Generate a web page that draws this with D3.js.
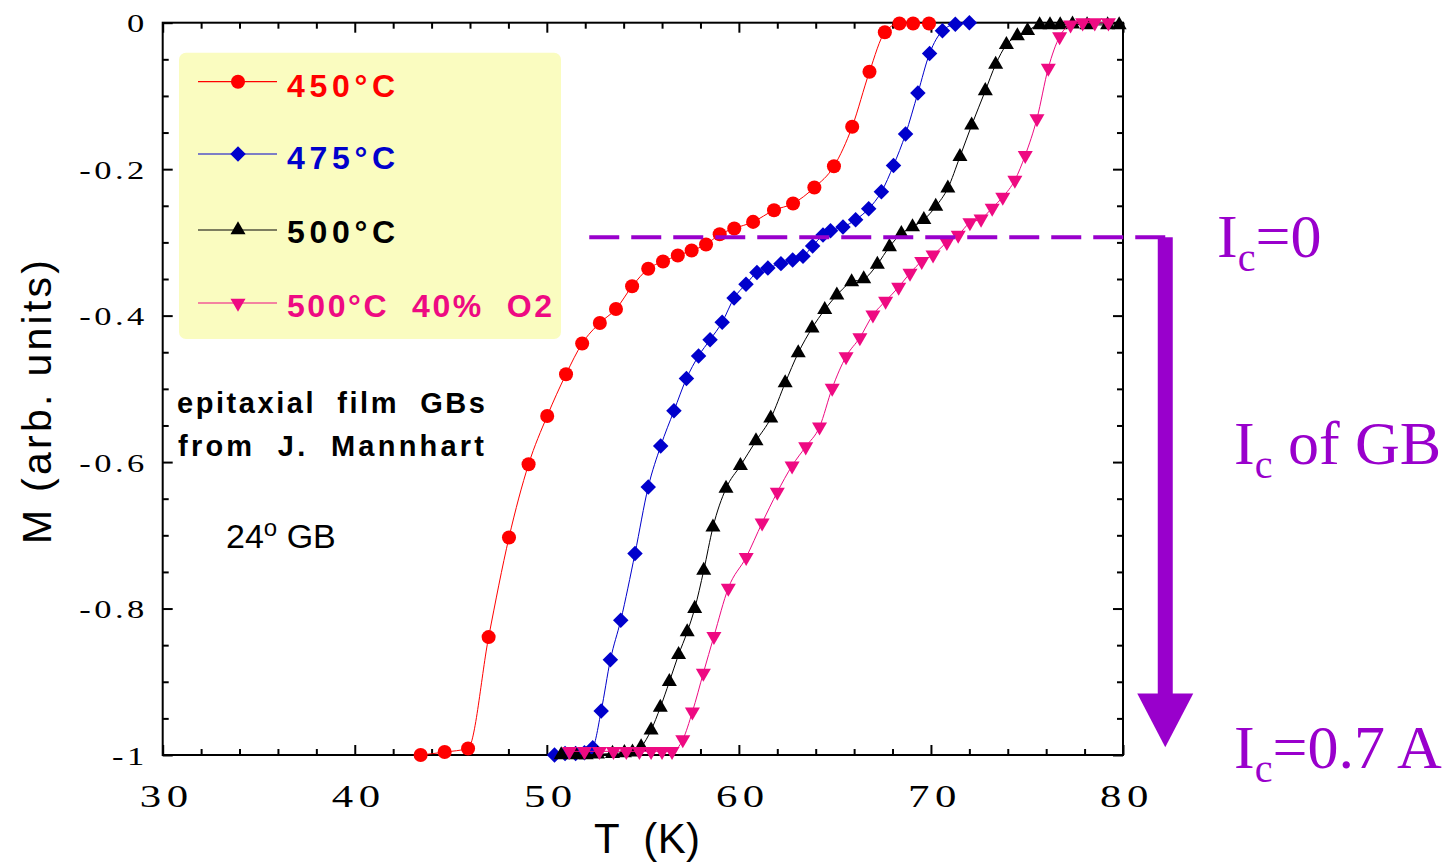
<!DOCTYPE html>
<html><head><meta charset="utf-8">
<script src="https://cdn.jsdelivr.net/npm/d3@7"></script>
<style>body{margin:0;background:#fff}svg{display:block}</style>
</head><body>
<svg id="c" width="1455" height="863"></svg>
<script>
// ---------- data ----------
const T450 = [43.43,44.68,45.9,46.97,48.03,49.05,50.02,51.0,51.84,52.76,53.6,54.44,55.28,56.05,56.82,57.54,58.29,59.0,59.76,60.74,61.83,62.82,63.93,64.95,65.9,66.8,67.6,68.36,69.07,69.9];
const M450 = [-1.0,-0.996,-0.991,-0.839,-0.703,-0.603,-0.537,-0.48,-0.438,-0.41,-0.391,-0.36,-0.336,-0.326,-0.318,-0.311,-0.303,-0.289,-0.281,-0.272,-0.256,-0.247,-0.225,-0.196,-0.142,-0.067,-0.013,-0.001,-0.001,-0.001];

const T475 = [50.4,50.95,51.5,51.96,52.39,52.83,53.31,53.85,54.59,55.28,55.93,56.62,57.27,57.9,58.5,59.13,59.75,60.37,60.94,61.51,62.19,62.8,63.34,63.84,64.38,64.77,65.42,66.08,66.76,67.42,68.05,68.68,69.32,69.93,70.6,71.27,72.0];
const M475 = [-1.0,-0.998,-0.998,-0.997,-0.99,-0.94,-0.87,-0.816,-0.725,-0.634,-0.578,-0.53,-0.486,-0.455,-0.433,-0.409,-0.376,-0.357,-0.341,-0.335,-0.329,-0.324,-0.319,-0.305,-0.29,-0.284,-0.279,-0.269,-0.254,-0.231,-0.195,-0.152,-0.096,-0.042,-0.011,-0.002,0.0];

const T500 = [50.75,51.5,52.05,52.64,53.42,54.04,54.46,54.91,55.43,55.91,56.38,56.86,57.31,57.7,58.17,58.65,59.33,60.08,60.89,61.66,62.41,63.09,63.81,64.47,65.1,65.87,66.5,67.21,67.84,68.46,69.04,69.63,70.25,70.88,71.51,72.12,72.83,73.37,73.93,74.5,75.03,75.66,76.2,76.73,77.37,78.13,79.2,79.8];
const M500 = [-1.0,-1.0,-1.0,-0.999,-0.998,-0.997,-0.996,-0.989,-0.966,-0.935,-0.9,-0.863,-0.832,-0.8,-0.748,-0.689,-0.636,-0.605,-0.571,-0.54,-0.492,-0.451,-0.417,-0.392,-0.372,-0.354,-0.35,-0.33,-0.306,-0.288,-0.279,-0.269,-0.251,-0.226,-0.183,-0.14,-0.093,-0.057,-0.03,-0.018,-0.011,-0.003,-0.003,-0.003,-0.002,-0.003,-0.003,-0.003];

const T500O2 = [51.18,51.96,52.74,53.47,54.14,54.82,55.43,56.0,56.52,57.08,57.58,58.15,58.7,59.45,60.38,61.21,62.0,62.77,63.48,64.2,64.86,65.58,66.3,66.98,67.64,68.32,68.91,69.52,70.11,70.83,71.42,72.03,72.61,73.19,73.74,74.37,74.91,75.52,76.11,76.7,77.27,77.9,78.53,79.24];
const M500O2 = [-0.995,-0.995,-0.995,-0.995,-0.995,-0.995,-0.995,-0.995,-0.995,-0.979,-0.941,-0.888,-0.838,-0.772,-0.73,-0.683,-0.641,-0.605,-0.579,-0.552,-0.499,-0.456,-0.43,-0.399,-0.38,-0.361,-0.342,-0.326,-0.317,-0.3,-0.29,-0.273,-0.268,-0.253,-0.238,-0.215,-0.181,-0.131,-0.062,-0.019,-0.003,0.0,0.0,0.0];

const seriesNames = ["450°C","475°C","500°C","500°C  40%  O2"];
const seriesColors = ["#ff0000","#0000cc","#000000","#ee0a82"];
const xTicks = [30,40,50,60,70,80];
const yTicks = [0,-0.2,-0.4,-0.6,-0.8,-1];
const xTickLabels = ["30","40","50","60","70","80"];
const yTickLabels = ["0","-0.2","-0.4","-0.6","-0.8","-1"];
const icLevel = -0.293;      // Ic=0 reference level (dashed line)
const dashStartT = 52.2;
const arrowT = 82.2;

// ---------- setup ----------
const svg = d3.select("#c");
const x = d3.scaleLinear().domain([30,80]).range([162.7,1123]);
const y = d3.scaleLinear().domain([-1,0]).range([755,22.7]);
const SANS = "'Liberation Sans', Arial, sans-serif";
const SERIF = "'Liberation Serif', 'Times New Roman', serif";
const STRETCH = 1.38;

// legend box
svg.append("rect").attr("x",179).attr("y",52.7).attr("width",382).attr("height",286.3)
  .attr("rx",7).attr("fill","#fafcc0");

// minor ticks
const xMinor = d3.range(32,80,2).filter(v=>v%10!==0);
const yMinor = d3.range(-0.95,0,0.05).map(v=>+v.toFixed(2)).filter(v=>Math.abs(v*5-Math.round(v*5))>1e-6);
const H = 755, Y0 = 22.7, X0 = 162.7, X1 = 1123;

function styleAxis(g){ g.select(".domain").remove(); g.selectAll("line").attr("stroke","#000").attr("stroke-width",2); }

svg.append("g").attr("transform",`translate(0,${H})`).call(d3.axisBottom(x).tickValues(xMinor).tickSize(-6).tickFormat("")).call(styleAxis);
svg.append("g").attr("transform",`translate(0,${Y0})`).call(d3.axisTop(x).tickValues(xMinor).tickSize(-6).tickFormat("")).call(styleAxis);
svg.append("g").attr("transform",`translate(0,${Y0})`).call(d3.axisTop(x).tickValues(xTicks).tickSize(-10).tickFormat("")).call(styleAxis);
svg.append("g").attr("transform",`translate(${X0},0)`).call(d3.axisLeft(y).tickValues(yMinor).tickSize(-6).tickFormat("")).call(styleAxis);
svg.append("g").attr("transform",`translate(${X1},0)`).call(d3.axisRight(y).tickValues(yMinor).tickSize(-6).tickFormat("")).call(styleAxis);
svg.append("g").attr("transform",`translate(${X1},0)`).call(d3.axisRight(y).tickValues(yTicks).tickSize(-10).tickFormat("")).call(styleAxis);

// major bottom with labels (wide serif look: horizontally stretched Times, letter-spaced)
const gx = svg.append("g").attr("transform",`translate(0,${H})`)
  .call(d3.axisBottom(x).tickValues(xTicks).tickSize(-10).tickFormat((d,i)=>xTickLabels[i])).call(styleAxis);
gx.selectAll("text").attr("y",52).attr("dy",0).attr("x",2.5).attr("fill","#000")
  .attr("transform",`scale(${STRETCH},1)`)
  .style("font-family",SERIF).style("font-size","31px").style("letter-spacing","4px");
// major left with labels
const gy = svg.append("g").attr("transform",`translate(${X0},0)`)
  .call(d3.axisLeft(y).tickValues(yTicks).tickSize(-10).tickFormat((d,i)=>yTickLabels[i])).call(styleAxis);
gy.selectAll("text").attr("x",-15/STRETCH).attr("dy","0.36em").attr("fill","#000")
  .attr("transform",`scale(${STRETCH},1)`)
  .style("font-family",SERIF).style("font-size","25px").style("letter-spacing","2.5px");

// frame
svg.append("rect").attr("x",X0).attr("y",Y0).attr("width",X1-X0).attr("height",H-Y0)
  .attr("fill","none").attr("stroke","#000").attr("stroke-width",2);

// axis titles
svg.append("text").attr("x",647).attr("y",853).attr("text-anchor","middle")
  .style("font-family",SANS).style("font-size","42px").style("white-space","pre")
  .attr("textLength",106).attr("lengthAdjust","spacing").text("T  (K)");
svg.append("text").attr("transform","translate(51,402) rotate(-90)").attr("text-anchor","middle")
  .style("font-family",SANS).style("font-size","41px")
  .attr("textLength",284).attr("lengthAdjust","spacing").text("M (arb. units)");

// ---------- series ----------
const diamond = { draw(ctx,size){ const r=Math.sqrt(size/2); ctx.moveTo(0,-r); ctx.lineTo(r,0); ctx.lineTo(0,r); ctx.lineTo(-r,0); ctx.closePath(); } };
const triDown = { draw(ctx,size){ const s=Math.sqrt(size*4/Math.sqrt(3)); const h=s*Math.sqrt(3)/2; ctx.moveTo(-s/2,-h/3); ctx.lineTo(s/2,-h/3); ctx.lineTo(0,2*h/3); ctx.closePath(); } };
const symTypes = [d3.symbolCircle, diamond, d3.symbolTriangle, triDown];
const symSizes = [155, 120, 98, 98];

const seriesT = [T450,T475,T500,T500O2];
const seriesM = [M450,M475,M500,M500O2];
const line = d3.line().x(d=>x(d[0])).y(d=>y(d[1])).curve(d3.curveMonotoneX);

seriesT.forEach((Ts,i)=>{
  const pts = Ts.map((t,j)=>[t, seriesM[i][j]]);
  const g = svg.append("g");
  g.append("path").attr("d",line(pts)).attr("fill","none").attr("stroke",seriesColors[i]).attr("stroke-width",1);
  g.selectAll("path.m").data(pts).join("path").attr("class","m")
    .attr("transform",d=>`translate(${x(d[0])},${y(d[1])})`)
    .attr("d",d3.symbol().type(symTypes[i]).size(symSizes[i]))
    .attr("fill",seriesColors[i]);
});

// ---------- legend ----------
const legendRows = [81.7,154,230,303];
const legendBase = [97.3,169.3,242.7,317.3];
const legendW = [108,108,108,265];
seriesNames.forEach((n,i)=>{
  svg.append("line").attr("x1",198).attr("x2",277).attr("y1",legendRows[i]).attr("y2",legendRows[i])
    .attr("stroke",seriesColors[i]).attr("stroke-width",1.2);
  svg.append("path").attr("transform",`translate(238,${legendRows[i]})`)
    .attr("d",d3.symbol().type(symTypes[i]).size(symSizes[i])).attr("fill",seriesColors[i]);
  svg.append("text").attr("x",287).attr("y",legendBase[i]).attr("fill",seriesColors[i])
    .style("font-family",SANS).style("font-weight","bold").style("font-size","32px").style("white-space","pre")
    .attr("textLength",legendW[i]).attr("lengthAdjust","spacing").text(n);
});

// ---------- annotations ----------
svg.append("text").attr("x",177).attr("y",413).style("font-family",SANS).style("font-weight","bold")
  .style("font-size","29px").style("white-space","pre").attr("textLength",308).attr("lengthAdjust","spacing")
  .text("epitaxial  film  GBs");
svg.append("text").attr("x",178).attr("y",456).style("font-family",SANS).style("font-weight","bold")
  .style("font-size","29px").style("white-space","pre").attr("textLength",306).attr("lengthAdjust","spacing")
  .text("from  J.  Mannhart");
const gbt = svg.append("text").attr("x",226).attr("y",548).style("font-family",SANS).style("font-size","34px");
gbt.append("tspan").text("24");
gbt.append("tspan").attr("dy",-12).style("font-size","24px").text("o");
gbt.append("tspan").attr("dy",12).text(" GB");

// dashed Ic=0 line and arrow
const PURPLE = "#9900cc";
const ax = x(arrowT);
svg.append("line").attr("x1",ax).attr("x2",x(dashStartT)).attr("y1",y(icLevel)).attr("y2",y(icLevel))
  .attr("stroke",PURPLE).attr("stroke-width",4).attr("stroke-dasharray","30,12");
svg.append("rect").attr("x",ax-7.5).attr("y",y(icLevel)).attr("width",15).attr("height",y(-0.916)-y(icLevel)+1)
  .attr("fill",PURPLE);
svg.append("path").attr("d",`M${ax-28},${y(-0.916)}L${ax+28},${y(-0.916)}L${ax},${y(-0.9895)}Z`).attr("fill",PURPLE);

function icLabel(xp, yp, rest){
  const t = svg.append("text").attr("x",xp).attr("y",yp).attr("fill",PURPLE)
    .style("font-family",SERIF).style("font-size","62px").style("white-space","pre");
  t.append("tspan").text("I");
  t.append("tspan").attr("dy",14).style("font-size","40px").text("c");
  t.append("tspan").attr("dy",-14).text(rest);
}
icLabel(1217, 257, "=0");
icLabel(1234, 464, " of GB");
icLabel(1234, 768, "=0.7 A");
</script>
</body></html>
